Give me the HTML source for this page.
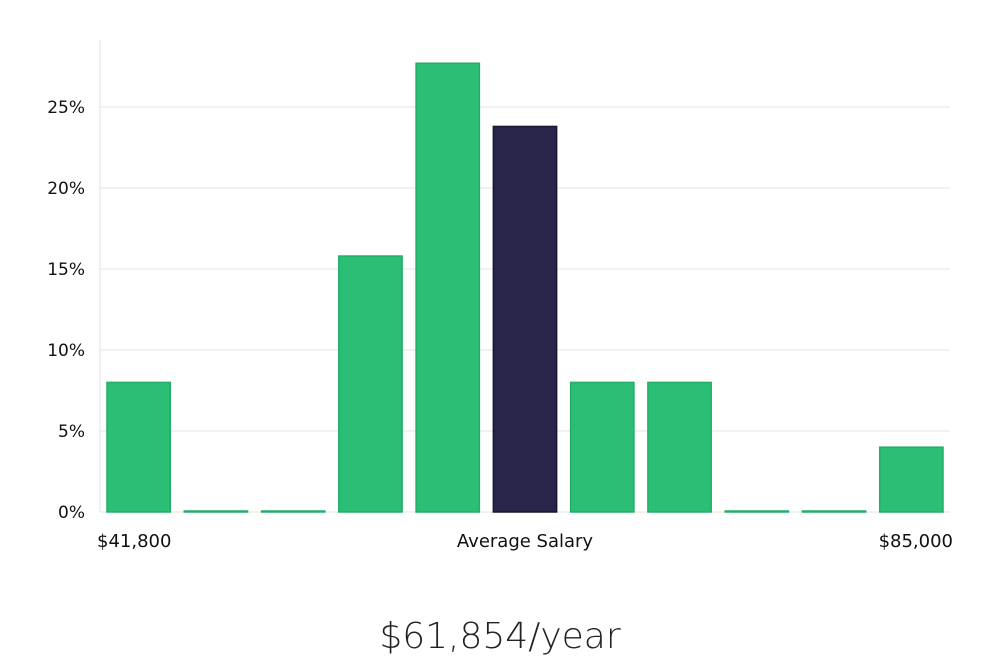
<!DOCTYPE html>
<html><head><meta charset="utf-8"><style>
body{margin:0;background:#fff;width:1000px;height:660px;overflow:hidden;font-family:"Liberation Sans","DejaVu Sans",sans-serif}
</style></head><body>
<svg id="chart" width="1000" height="660" xmlns="http://www.w3.org/2000/svg">
<g id="grid"></g><g id="bars"></g><g id="labels"></g>
<text x="500" y="648" text-anchor="middle" font-size="36" fill="#222" font-family="'DejaVu Sans',sans-serif" font-weight="300">$61,854/year</text>
</svg>
<script>
const values=[8,0,0,15.8,27.7,23.8,8,8,0,0,4];
const highlight=[false,false,false,false,false,true,false,false,false,false,false];
const ticks=[0,5,10,15,20,25];
const tickLabels=["0%","5%","10%","15%","20%","25%"];
const xLabels=["$41,800","Average Salary","$85,000"];
const NS="http://www.w3.org/2000/svg";
const x0=100,x1=950,yBase=512,pxPer=16.2;
const y=v=>yBase-v*pxPer;
const step=(x1-x0)/values.length;
const xb=i=>x0+i*step+7;
function mk(t,a,p){const e=document.createElementNS(NS,t);for(const k in a)e.setAttribute(k,a[k]);p.appendChild(e);return e;}
const g=document.getElementById('grid');
ticks.forEach((t,i)=>{
 const l=mk('line',{x1:x0,x2:x1,y1:y(t),y2:y(t),stroke:'#e3e3e6','stroke-width':1},g);
 
 
 const tx=mk('text',{x:85,y:y(t)+6,'text-anchor':'end','font-size':17,fill:'#111','font-family':"'DejaVu Sans',sans-serif"},g);
 tx.textContent=tickLabels[i];
 
 
});
const ax=mk('line',{x1:x0,x2:x0,y1:40,y2:yBase,stroke:'#e3e3e6','stroke-width':1},g);


const b=document.getElementById('bars');
values.forEach((v,i)=>{
 const h=Math.max(v*pxPer,1);
 const r=mk('rect',{x:xb(i),y:yBase-h,width:step-14,height:h,fill:highlight[i]?'#29244a':'#2abf75',stroke:highlight[i]?'#1a1533':'#22ad68','stroke-width':1.5},b);
 
 
});
const lb=document.getElementById('labels');
const xl=[[97,'start'],[525,'middle'],[953,'end']];
xLabels.forEach((s,i)=>{
 const t=mk('text',{x:xl[i][0],y:547,'text-anchor':xl[i][1],'font-size':18,fill:'#111','font-family':"'DejaVu Sans',sans-serif"},lb);
 t.textContent=s;
 
 
});
</script>
</body></html>
